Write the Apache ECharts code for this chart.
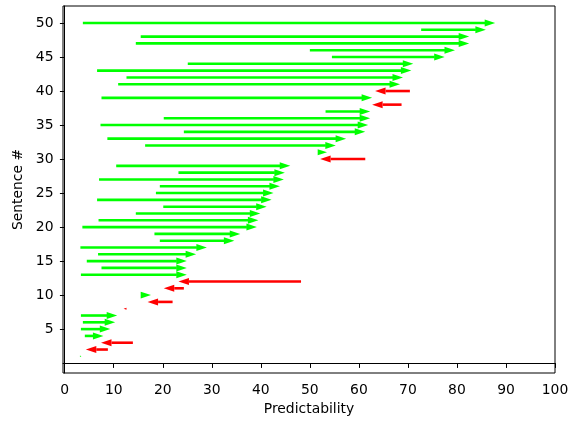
<!DOCTYPE html>
<html>
<head>
<meta charset="utf-8">
<script src="https://cdn.jsdelivr.net/npm/echarts@6/dist/echarts.min.js"></script>
<style>html,body{margin:0;padding:0;background:#fff;}#c{width:575px;height:421px;}</style>
</head>
<body>
<div id="c"></div>
<script>
const sentences = [1,2,3,4,5,6,7,8,9,10,11,12,13,14,15,16,17,18,19,20,21,22,23,24,25,26,27,28,29,30,31,32,33,34,35,36,37,38,39,40,41,42,43,44,45,46,47,48,49,50];
const startValues = [3.1,8.7,13.8,4.1,3.3,3.7,3.3,12.6,21.9,15.5,24.2,48.1,3.3,7.5,4.5,6.8,3.2,19.4,18.3,3.6,6.9,14.5,20.1,6.6,18.6,19.4,7.0,23.2,10.5,61.2,51.6,16.4,8.7,24.3,7.3,20.2,53.2,68.6,7.5,70.3,10.9,12.6,6.6,25.1,54.5,50.0,14.5,15.5,72.7,3.7];
const endValues = [3.4,4.3,7.4,7.9,9.3,10.3,10.7,12.0,16.9,17.6,20.2,23.2,24.9,24.9,24.9,26.8,29.0,34.6,35.8,39.2,39.5,39.9,41.2,42.2,42.6,43.9,44.7,44.9,46.0,52.1,53.5,55.3,57.4,61.3,61.9,62.3,62.3,62.7,62.7,63.3,68.4,69.0,70.7,71.1,77.5,79.6,82.5,82.5,85.9,87.8];
const xTicks = [0,10,20,30,40,50,60,70,80,90,100];
const yTicks = [5,10,15,20,25,30,35,40,45,50];

const data = sentences.map((s, i) => [startValues[i], endValues[i], s]);
const FONT = 'DejaVu Sans';
const FS = 13.9;

const chart = echarts.init(document.getElementById('c'), null, {renderer: 'canvas'});
chart.setOption({
  animation: false,
  backgroundColor: '#fff',
  grid: {left: 63, top: 6, width: 492, height: 367, show: true, borderColor: '#000', borderWidth: 1, containLabel: false},
  xAxis: {
    type: 'value', min: -0.35, max: 100,
    name: 'Predictability', nameLocation: 'middle', nameGap: 29,
    nameTextStyle: {fontFamily: FONT, fontSize: FS, color: '#000'},
    axisLine: {show: true, lineStyle: {color: '#000', width: 1}},
    axisTick: {show: true, length: 4.8, lineStyle: {color: '#000'}, customValues: xTicks},
    axisLabel: {fontFamily: FONT, fontSize: FS, color: '#000', margin: 10, customValues: xTicks},
    splitLine: {show: false}
  },
  yAxis: {
    type: 'value', min: -1.45, max: 52.5,
    name: 'Sentence #', nameLocation: 'middle', nameGap: 29,
    nameTextStyle: {fontFamily: FONT, fontSize: FS, color: '#000'},
    axisLine: {show: true, lineStyle: {color: '#000', width: 1}},
    axisTick: {show: true, length: 4.8, lineStyle: {color: '#000'}, customValues: yTicks},
    axisLabel: {fontFamily: FONT, fontSize: FS, color: '#000', margin: 9.5, customValues: yTicks},
    splitLine: {show: false}
  },
  series: [{
    type: 'custom',
    data: data,
    encode: {x: [0, 1], y: 2},
    renderItem: function (params, api) {
      const s = api.value(0), e = api.value(1), yv = api.value(2);
      const color = e < s ? '#ff0000' : '#00ff00';
      const p0 = api.coord([s, yv]);
      const p1 = api.coord([e, yv]);
      const dx = p1[0] - p0[0];
      const L = Math.abs(dx);
      const dir = dx >= 0 ? 1 : -1;
      const HL = 10.5, HW = 7, SW = 2.6;
      const hl = Math.min(HL, Math.max(L, 1.2));
      const k = hl / HL;
      const hw = Math.max(HW * k, 1.5);
      const tipX = p1[0], y = p1[1];
      const baseX = tipX - dir * hl;
      const children = [];
      if (L > hl) {
        children.push({type: 'rect', shape: {x: Math.min(p0[0], baseX), y: y - SW / 2, width: Math.abs(baseX - p0[0]) + 0.5, height: SW}, style: {fill: color}});
      }
      children.push({type: 'polygon', shape: {points: [[tipX, y], [baseX, y - hw / 2], [baseX, y + hw / 2]]}, style: {fill: color}});
      return {type: 'group', children: children};
    }
  }]
});
</script>
</body>
</html>
